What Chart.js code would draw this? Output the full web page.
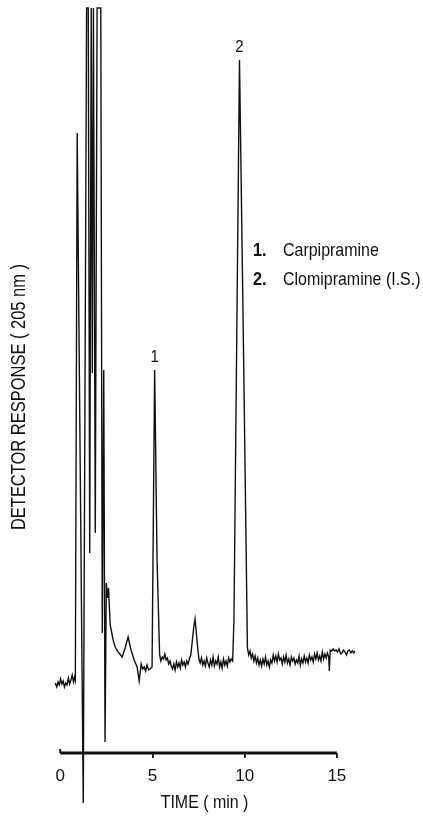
<!DOCTYPE html>
<html>
<head>
<meta charset="utf-8">
<script src="https://cdn.jsdelivr.net/npm/chart.js@4.4.1/dist/chart.umd.min.js"></script>
<style>
  body { margin: 0; background: #fff; }
</style>
</head>
<body>
<canvas id="chromatogram" width="423" height="817"></canvas>
<script>
// retention time (min) and detector response
const timeMin = [
    -0.27, -0.19, -0.12, -0.05, 0.02, 0.09, 0.16, 0.23, 0.30,
    0.37, 0.44, 0.51, 0.58, 0.65, 0.72, 0.78, 0.82,
    0.92, 1.25, 1.43, 1.52, 1.60, 1.68, 1.74, 1.80, 1.90, 2.00,
    2.20, 2.28, 2.36, 2.43, 2.50, 2.57, 2.62, 2.71, 2.87, 2.98,
    3.14, 3.36, 3.52, 3.68, 3.84, 4.01, 4.17, 4.28, 4.39, 4.47, 4.55, 4.63, 4.71, 4.79, 4.87, 4.98,
    5.12, 5.25, 5.39,
    5.46, 5.53, 5.60, 5.67, 5.74, 5.81, 5.88, 5.95, 6.02, 6.09,
    6.16, 6.23, 6.30, 6.37, 6.44, 6.51, 6.58, 6.65, 6.72, 6.79,
    6.86, 6.93, 7.00, 7.08, 7.16, 7.24, 7.31, 7.38, 7.45, 7.52,
    7.59, 7.66, 7.73, 7.80, 7.87, 7.94, 8.01, 8.08, 8.15, 8.22,
    8.29, 8.36, 8.43, 8.50, 8.57, 8.64, 8.71, 8.78, 8.85, 8.92,
    8.99, 9.06, 9.13, 9.20, 9.27, 9.35,
    9.42, 9.72, 9.96, 10.15,
    10.22, 10.29, 10.36, 10.43, 10.50, 10.57, 10.64, 10.71, 10.78, 10.85,
    10.92, 10.99, 11.06, 11.13, 11.20, 11.27, 11.34, 11.41, 11.48, 11.55,
    11.62, 11.69, 11.76, 11.83, 11.90, 11.97, 12.04, 12.11, 12.18, 12.25,
    12.32, 12.39, 12.46, 12.53, 12.60, 12.67, 12.74, 12.81, 12.88, 12.95,
    13.02, 13.09, 13.16, 13.23, 13.30, 13.37, 13.44, 13.51, 13.58, 13.65,
    13.72, 13.79, 13.86, 13.93, 14.00, 14.07, 14.14, 14.21, 14.28, 14.35,
    14.42, 14.49, 14.56, 14.59, 14.64, 14.72, 14.80, 14.88, 14.96, 15.04,
    15.12, 15.20, 15.28, 15.36, 15.44, 15.52, 15.60, 15.68, 15.76, 15.84, 15.92, 15.97
];
const response = [
    7.0, 6.6, 7.1, 6.8, 7.4, 6.9, 7.2, 6.6, 7.0,
    6.8, 7.5, 6.9, 7.3, 7.8, 7.1, 7.6, 7.3,
    62.0, -5.0, 74.5, 74.5, 20.0, 74.5, 38.0, 74.5, 22.0, 74.5,
    74.5, 12.0, 38.3, 1.1, 17.0, 15.5, 16.5, 12.8, 11.3, 10.6,
    10.1, 9.6, 10.5, 11.6, 10.3, 9.3, 8.6, 7.2, 8.9, 8.4, 8.6, 8.2, 8.8, 8.3, 8.4, 8.6,
    38.3, 19.3, 9.8,
    9.2, 9.6, 9.4, 9.9, 9.3, 9.5, 8.9, 9.2, 8.7, 8.4,
    8.9, 8.3, 9.1, 8.6, 9.0, 8.5, 9.3, 8.8, 9.1, 8.6,
    9.2, 8.9, 9.4, 9.8, 11.2, 12.6, 13.4, 12.0, 10.6, 9.4,
    9.0, 9.5, 8.8, 9.2, 8.7, 9.5, 9.0, 8.6, 9.3, 8.8,
    9.6, 8.7, 9.2, 8.9, 9.6, 8.6, 9.1, 8.5, 9.4, 8.8,
    9.2, 8.7, 9.5, 9.1, 9.4, 9.2,
    13.3, 69.3, 37.3, 10.5,
    9.8, 10.2, 9.5, 9.9, 9.2, 9.7, 9.0, 9.5, 8.8, 9.3,
    8.7, 9.4, 8.9, 9.6, 8.8, 9.2, 8.6, 9.3, 9.0, 9.8,
    9.2, 9.7, 9.1, 9.9, 9.3, 9.5, 8.9, 9.6, 9.1, 9.8,
    9.0, 9.4, 8.8, 9.6, 9.2, 9.5, 8.9, 9.3, 9.0, 9.7,
    8.8, 9.4, 9.0, 9.7, 9.1, 9.5, 9.0, 9.8, 9.3, 9.6,
    9.1, 9.9, 9.4, 10.0, 9.3, 9.7, 9.2, 10.1, 9.4, 9.9,
    9.5, 10.0, 9.6, 8.2, 10.3, 10.2, 10.4, 10.2, 10.3, 10.1,
    10.4, 9.9, 10.0, 10.3, 10.1, 9.8, 10.2, 10.3, 10.0, 10.2, 10.0, 10.2
];

const xTicks = [0, 5, 10, 15];
const peakTimes = [5.12, 9.72];
const peakLabels = ['1', '2'];
const legendNums = ['1.', '2.'];
const legendNames = ['Carpipramine', 'Clomipramine (I.S.)'];
const xTitle = 'TIME ( min )';
const yTitle = 'DETECTOR RESPONSE ( 205 nm )';

const FONT = "'Liberation Sans', Arial, sans-serif";

// the original lettering is a tall condensed grotesque: squeeze a normal face
function narrowText(ctx, str, x, y, size, bold, squeeze) {
    ctx.save();
    ctx.translate(x, y);
    ctx.scale(squeeze, 1);
    ctx.font = (bold ? 'bold ' : '') + size + 'px ' + FONT;
    ctx.fillText(str, 0, 0);
    ctx.restore();
}

const annotations = {
    id: 'annotations',
    afterDatasetsDraw(chart) {
        const ctx = chart.ctx;
        const x = chart.scales.x;
        const y = chart.scales.y;
        const base = chart.chartArea.bottom;
        ctx.save();
        ctx.strokeStyle = '#111';
        ctx.fillStyle = '#111';

        // time axis only runs from 0 to 15 min, with a small hook at 0
        const x0 = x.getPixelForValue(xTicks[0]);
        const x1 = x.getPixelForValue(xTicks[xTicks.length - 1]);
        ctx.lineWidth = 3;
        ctx.beginPath();
        ctx.moveTo(x0, base);
        ctx.lineTo(x1, base);
        ctx.stroke();
        ctx.lineWidth = 2;
        ctx.beginPath();
        ctx.moveTo(x0, base);
        ctx.lineTo(x0, base - 4);
        ctx.stroke();

        ctx.textAlign = 'center';
        ctx.textBaseline = 'middle';
        narrowText(ctx, xTitle, (x0 + x1) / 2 + 6, 803, 19, false, 0.84);

        // peak numbers above the apexes
        ctx.textBaseline = 'bottom';
        peakTimes.forEach((t, i) => {
            const v = response[timeMin.indexOf(t)];
            narrowText(ctx, peakLabels[i], x.getPixelForValue(t), y.getPixelForValue(v) - 4, 17, false, 0.88);
        });

        // peak key
        ctx.textAlign = 'left';
        ctx.textBaseline = 'middle';
        legendNums.forEach((n, i) => {
            const ty = 251 + i * 29;
            narrowText(ctx, n, 253, ty, 18, true, 0.9);
            narrowText(ctx, legendNames[i], 283, ty, 19, false, 0.84);
        });

        // vertical axis title
        ctx.translate(20, 397);
        ctx.rotate(-Math.PI / 2);
        ctx.textAlign = 'center';
        narrowText(ctx, yTitle, 0, 0, 19.5, false, 0.845);
        ctx.restore();
    }
};

new Chart(document.getElementById('chromatogram').getContext('2d'), {
    type: 'line',
    data: {
        datasets: [{
            data: timeMin.map((t, i) => ({ x: t, y: response[i] })),
            borderColor: '#111',
            borderWidth: 1.4,
            pointRadius: 0,
            tension: 0,
            clip: false
        }]
    },
    options: {
        responsive: false,
        animation: false,
        layout: { padding: { top: 8, right: 64, bottom: 0, left: 51 } },
        plugins: {
            legend: { display: false },
            tooltip: { enabled: false }
        },
        scales: {
            x: {
                type: 'linear',
                min: -0.5,
                max: 16.2,
                afterFit: s => { s.height = 64; },
                afterBuildTicks: s => { s.ticks = xTicks.map(v => ({ value: v })); },
                border: { display: false },
                grid: {
                    drawOnChartArea: false,
                    tickLength: 5,
                    lineWidth: 1.8,
                    color: ctx => ctx.tick && ctx.tick.value === 0 ? 'rgba(0,0,0,0)' : '#111'
                },
                ticks: {
                    color: '#111',
                    padding: 8,
                    font: { family: FONT, size: 17 }
                },
                title: { display: false }
            },
            y: {
                type: 'linear',
                display: false,
                min: 0,
                max: 74.5
            }
        }
    },
    plugins: [annotations]
});
</script>
</body>
</html>
